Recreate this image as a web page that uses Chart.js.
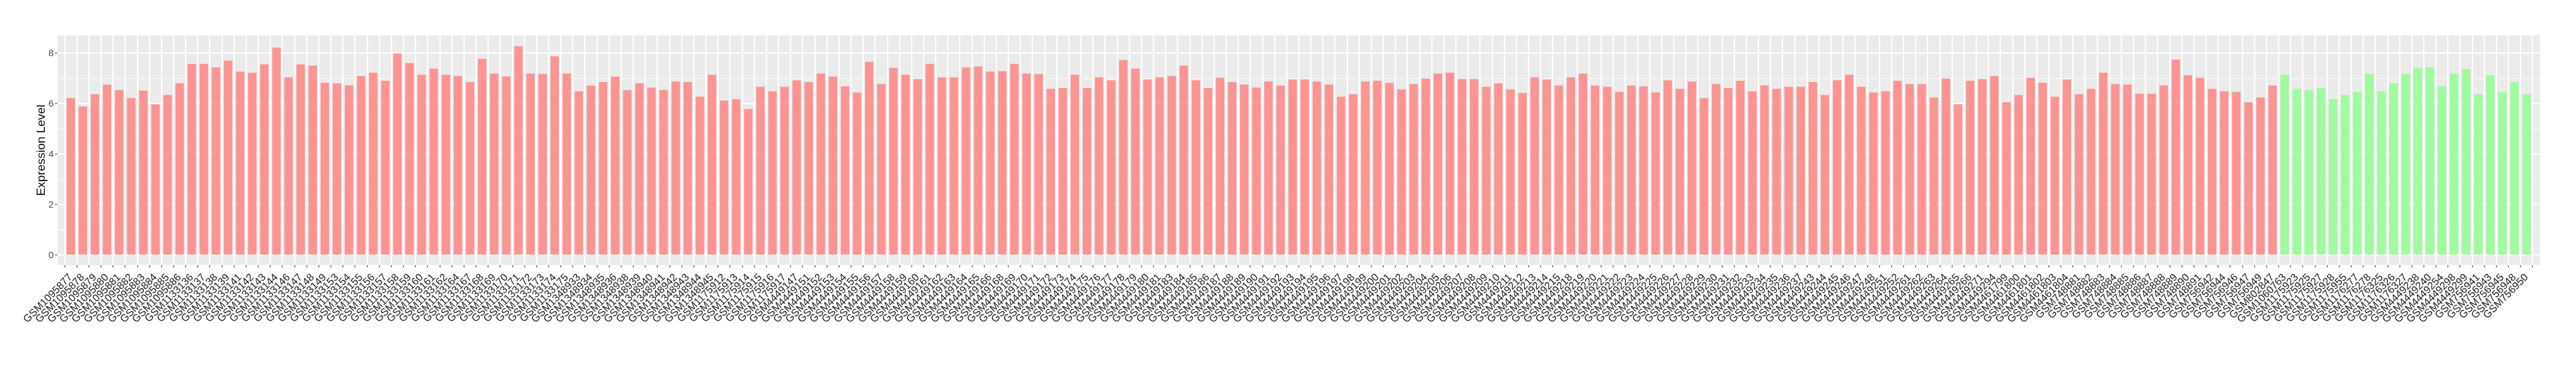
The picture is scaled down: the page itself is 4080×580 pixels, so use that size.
<!DOCTYPE html>
<html>
<head>
<meta charset="utf-8">
<script src="https://cdn.jsdelivr.net/npm/chart.js@4.4.0/dist/chart.umd.min.js"></script>
<style>
  body { margin: 0; background: #ffffff; }
  #wrap { width: 4080px; height: 580px; }
</style>
</head>
<body>
<div id="wrap"><canvas id="exprChart" width="4080" height="580"></canvas></div>
<script>
// samples in the first (red) group
const redSamples = [
    "GSM1095877", "GSM1095878", "GSM1095879", "GSM1095880", "GSM1095881", "GSM1095882", "GSM1095883", "GSM1095884", "GSM1095885", "GSM1095886",
    "GSM1133136", "GSM1133137", "GSM1133138", "GSM1133139", "GSM1133141", "GSM1133142", "GSM1133143", "GSM1133144", "GSM1133146", "GSM1133147",
    "GSM1133148", "GSM1133149", "GSM1133153", "GSM1133154", "GSM1133155", "GSM1133156", "GSM1133157", "GSM1133158", "GSM1133159", "GSM1133160",
    "GSM1133161", "GSM1133162", "GSM1133164", "GSM1133167", "GSM1133168", "GSM1133169", "GSM1133170", "GSM1133171", "GSM1133172", "GSM1133173",
    "GSM1133174", "GSM1133175", "GSM1348933", "GSM1348934", "GSM1348935", "GSM1348936", "GSM1348938", "GSM1348939", "GSM1348940", "GSM1348941",
    "GSM1348942", "GSM1348943", "GSM1348944", "GSM1348945", "GSM1175912", "GSM1175913", "GSM1175914", "GSM1175915", "GSM1175916", "GSM1175917",
    "GSM4449147", "GSM4449151", "GSM4449152", "GSM4449153", "GSM4449154", "GSM4449155", "GSM4449156", "GSM4449157", "GSM4449158", "GSM4449159",
    "GSM4449160", "GSM4449161", "GSM4449162", "GSM4449163", "GSM4449164", "GSM4449165", "GSM4449166", "GSM4449168", "GSM4449169", "GSM4449170",
    "GSM4449171", "GSM4449172", "GSM4449173", "GSM4449174", "GSM4449175", "GSM4449176", "GSM4449177", "GSM4449178", "GSM4449179", "GSM4449180",
    "GSM4449181", "GSM4449183", "GSM4449184", "GSM4449185", "GSM4449186", "GSM4449187", "GSM4449188", "GSM4449189", "GSM4449190", "GSM4449191",
    "GSM4449192", "GSM4449193", "GSM4449194", "GSM4449195", "GSM4449196", "GSM4449197", "GSM4449198", "GSM4449199", "GSM4449200", "GSM4449201",
    "GSM4449202", "GSM4449203", "GSM4449204", "GSM4449205", "GSM4449206", "GSM4449207", "GSM4449208", "GSM4449209", "GSM4449210", "GSM4449211",
    "GSM4449212", "GSM4449213", "GSM4449214", "GSM4449215", "GSM4449218", "GSM4449219", "GSM4449220", "GSM4449221", "GSM4449222", "GSM4449223",
    "GSM4449224", "GSM4449225", "GSM4449226", "GSM4449227", "GSM4449228", "GSM4449229", "GSM4449230", "GSM4449231", "GSM4449232", "GSM4449233",
    "GSM4449234", "GSM4449235", "GSM4449236", "GSM4449237", "GSM4449243", "GSM4449244", "GSM4449245", "GSM4449246", "GSM4449247", "GSM4449248",
    "GSM4449251", "GSM4449252", "GSM4449261", "GSM4449262", "GSM4449263", "GSM4449264", "GSM4449265", "GSM4449266", "GSM4449271", "GSM4449294",
    "GSM4461799", "GSM4461800", "GSM4461801", "GSM4461802", "GSM4461803", "GSM4461804", "GSM748881", "GSM748882", "GSM748883", "GSM748884",
    "GSM748885", "GSM748886", "GSM748887", "GSM748888", "GSM748889", "GSM748890", "GSM748891", "GSM756942", "GSM756944", "GSM756946",
    "GSM756947", "GSM756949", "GSM802847"
];
const redValues = [
    6.23, 5.89, 6.38, 6.76, 6.54, 6.23, 6.52, 5.98, 6.35, 6.81,
    7.58, 7.58, 7.44, 7.71, 7.27, 7.23, 7.56, 8.22, 7.05, 7.56,
    7.51, 6.83, 6.81, 6.73, 7.10, 7.23, 6.91, 7.99, 7.61, 7.15,
    7.39, 7.15, 7.10, 6.86, 7.78, 7.20, 7.08, 8.28, 7.20, 7.18,
    7.88, 7.20, 6.49, 6.72, 6.86, 7.08, 6.54, 6.81, 6.64, 6.54,
    6.88, 6.86, 6.28, 7.15, 6.13, 6.18, 5.79, 6.67, 6.49, 6.67,
    6.93, 6.86, 7.20, 7.08, 6.69, 6.45, 7.66, 6.78, 7.42, 7.15,
    6.98, 7.58, 7.05, 7.05, 7.44, 7.47, 7.27, 7.29, 7.58, 7.20,
    7.18, 6.59, 6.62, 7.15, 6.62, 7.05, 6.93, 7.73, 7.39, 6.96,
    7.05, 7.10, 7.51, 6.93, 6.62, 7.03, 6.86, 6.76, 6.64, 6.88,
    6.72, 6.96, 6.96, 6.88, 6.76, 6.28, 6.38, 6.88, 6.91, 6.83,
    6.57, 6.78, 7.00, 7.20, 7.23, 6.98, 6.98, 6.67, 6.81, 6.57,
    6.43, 7.05, 6.96, 6.72, 7.05, 7.20, 6.72, 6.67, 6.47, 6.72,
    6.69, 6.45, 6.93, 6.59, 6.88, 6.23, 6.78, 6.62, 6.91, 6.49,
    6.73, 6.59, 6.67, 6.67, 6.86, 6.35, 6.93, 7.15, 6.67, 6.45,
    6.49, 6.91, 6.78, 6.78, 6.25, 7.00, 5.98, 6.91, 6.98, 7.10,
    6.06, 6.35, 7.03, 6.83, 6.28, 6.96, 6.38, 6.59, 7.23, 6.78,
    6.76, 6.40, 6.40, 6.73, 7.75, 7.13, 7.03, 6.59, 6.49, 6.47,
    6.06, 6.25, 6.72
];

// samples in the second (green) group
const greenSamples = [
    "GSM1060763", "GSM1175923", "GSM1175925", "GSM1175927", "GSM1175928", "GSM1175955", "GSM1176277", "GSM1176278", "GSM1176325", "GSM1176326",
    "GSM1176327", "GSM4449238", "GSM4449240", "GSM4449254", "GSM4449298", "GSM4449299", "GSM756941", "GSM756943", "GSM756945", "GSM756948",
    "GSM756950"
];
const greenValues = [
    7.15, 6.59, 6.54, 6.62, 6.18, 6.35, 6.47, 7.20, 6.49, 6.81,
    7.18, 7.42, 7.44, 6.69, 7.20, 7.37, 6.38, 7.13, 6.47, 6.86,
    6.38
];

const yTicks = [0, 2, 4, 6, 8];

const redColor = "#FC9494";
const greenColor = "#A0FAA0";

const samples = redSamples.concat(greenSamples);
const values = redValues.concat(greenValues);
const barColors = redSamples.map(() => redColor).concat(greenSamples.map(() => greenColor));

// grey panel behind the bars, like ggplot
const panelBg = {
    id: "panelBg",
    beforeDraw(chart) {
        const { ctx, chartArea } = chart;
        ctx.save();
        ctx.fillStyle = "#EBEBEB";
        ctx.fillRect(chartArea.left, chartArea.top, chartArea.right - chartArea.left, chartArea.bottom - chartArea.top);
        ctx.restore();
    }
};

const ctx = document.getElementById("exprChart").getContext("2d");
const exprChart = new Chart(ctx, {
    type: "bar",
    data: {
        datasets: [{
            label: "Expression",
            data: values.map((v, i) => ({ x: i, y: v })),
            backgroundColor: barColors,
            barPercentage: 0.7,
            categoryPercentage: 1.0
        }]
    },
    options: {
        responsive: false,
        devicePixelRatio: 1,
        animation: false,
        layout: { padding: { left: 0, top: 56, right: 57, bottom: 0 } },
        plugins: {
            legend: { display: false },
            tooltip: { enabled: false }
        },
        scales: {
            x: {
                type: "linear",
                min: -0.6,
                max: samples.length - 0.4,
                afterBuildTicks: (scale) => {
                    scale.ticks = samples.map((s, i) => ({ value: i }));
                },
                afterFit: (scale) => { scale.height = 160; },
                border: { display: false },
                grid: {
                    color: "#FFFFFF",
                    lineWidth: 2,
                    drawTicks: true,
                    tickLength: 4,
                    tickColor: "#333333",
                    tickWidth: 1
                },
                ticks: {
                    autoSkip: false,
                    minRotation: 45,
                    maxRotation: 45,
                    padding: 6,
                    color: "#1A1A1A",
                    font: { family: "'Liberation Sans', Arial, sans-serif", size: 16.5 },
                    callback: (v) => samples[v]
                }
            },
            y: {
                min: -0.39,
                max: 8.71,
                afterBuildTicks: (scale) => {
                    scale.ticks = [0, 1, 2, 3, 4, 5, 6, 7, 8].map(v => ({ value: v }));
                },
                afterFit: (scale) => { scale.width = 91; },
                border: { display: false },
                grid: {
                    color: "#FFFFFF",
                    lineWidth: (c) => yTicks.includes(c.tick.value) ? 2 : 1,
                    tickLength: 4,
                    tickColor: (c) => yTicks.includes(c.tick.value) ? "#333333" : "rgba(0,0,0,0)",
                    tickWidth: 1
                },
                ticks: {
                    padding: 2,
                    color: "#4D4D4D",
                    font: { family: "'Liberation Sans', Arial, sans-serif", size: 15 },
                    callback: (v) => yTicks.includes(v) ? String(v) : ""
                },
                title: {
                    display: true,
                    text: "Expression Level",
                    color: "#000000",
                    padding: { top: 54, bottom: 0 },
                    font: { family: "'Liberation Sans', Arial, sans-serif", size: 19 }
                }
            }
        }
    },
    plugins: [panelBg]
});
</script>
</body>
</html>
